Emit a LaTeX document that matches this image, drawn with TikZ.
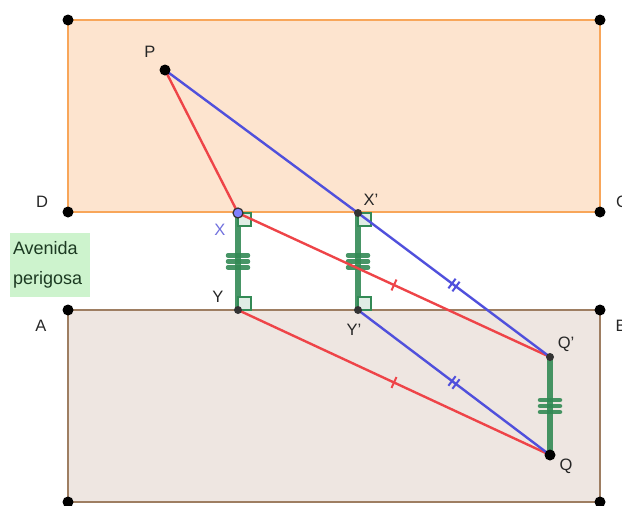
\documentclass[tikz,border=0pt]{standalone}
\usepackage{fontspec}
\setmainfont{Liberation Sans}
\usetikzlibrary{decorations.markings,calc}
\definecolor{orangeB}{HTML}{F8A65A}
\definecolor{orangeF}{HTML}{FDE4CF}
\definecolor{brownB}{HTML}{9E7E62}
\definecolor{brownF}{HTML}{EEE6E1}
\definecolor{redL}{HTML}{EE4448}
\definecolor{blueL}{HTML}{5050DC}
\definecolor{greenL}{HTML}{338A55}
\definecolor{greenBox}{HTML}{CDF3CD}
\definecolor{greenT}{HTML}{1C3A22}
\definecolor{ptX}{HTML}{8080FF}
\definecolor{labX}{HTML}{7070DD}
\tikzset{
  corner/.style={circle,fill=black,inner sep=0pt,minimum size=11pt},
  bigpt/.style={circle,fill=black,inner sep=0pt,minimum size=11pt},
  smallpt/.style={circle,fill=black!80,inner sep=0pt,minimum size=8pt},
  lab/.style={font=\fontsize{16.5}{18}\selectfont,text=black!85,inner sep=0pt},
  redseg/.style={redL,line width=2.4pt},
  blueseg/.style={blueL,line width=2.4pt},
  greenseg/.style={greenL,line width=6pt,opacity=0.9},
  bar/.style={greenL,line width=4.5pt,line cap=round,opacity=0.9},
  rightang/.style={draw=greenL,fill=greenL!15,line width=1.3pt},
  onetick/.style={postaction={decorate,decoration={markings,mark=at position 0.5 with {\draw[redL,line width=2pt] (0,-6pt)--(0,6pt);}}}},
  twotick/.style={postaction={decorate,decoration={markings,mark=at position 0.5 with {\draw[blueL,line width=2pt] (-2.5pt,-6pt)--(-2.5pt,6pt) (2.5pt,-6pt)--(2.5pt,6pt);}}}}
}
\begin{document}
\begin{tikzpicture}[x=1pt,y=-1pt]
\useasboundingbox (0,0) rectangle (622,506);
% rectangles
\coordinate (TL) at (68,20);
\coordinate (TR) at (600,20);
\coordinate (D) at (68,212);
\coordinate (C) at (600,212);
\coordinate (A) at (68,310);
\coordinate (B) at (600,310);
\coordinate (BL) at (68,502);
\coordinate (BR) at (600,502);
\draw[orangeB,fill=orangeF,line width=2.5pt] (TL) rectangle (C);
\draw[brownB,fill=brownF,line width=2.5pt] (A) rectangle (BR);
% points
\coordinate (P) at (165,70);
\coordinate (X) at (238,213);
\coordinate (Xp) at (358,213);
\coordinate (Y) at (238,310);
\coordinate (Yp) at (358,310);
\coordinate (Qp) at (550,357);
\coordinate (Q) at (550,455);
% green label
\node[fill=greenBox,text=greenT,align=left,inner sep=3pt,font=\fontsize{18}{30}\selectfont,text width=74pt,minimum height=64pt] (av) at (50,265) {Avenida\\perigosa};
% green segments
\draw[greenseg] (X) -- (Y);
\draw[greenseg] (Xp) -- (Yp);
\draw[greenseg] (Qp) -- (Q);
\foreach \s/\e in {X/Y,Xp/Yp,Qp/Q}{
  \foreach \d in {-6,0,6}{
    \draw[bar] ($(\s)!0.5!(\e)+(-10,\d)$) -- ($(\s)!0.5!(\e)+(10,\d)$);
  }
}
% right angle marks
\draw[rightang] (X) rectangle ++(13,13);
\draw[rightang] (Xp) rectangle ++(13,13);
\draw[rightang] (Y) rectangle ++(13,-13);
\draw[rightang] (Yp) rectangle ++(13,-13);
% red and blue lines
\draw[redseg] (P) -- (X);
\draw[redseg,onetick] (X) -- (Qp);
\draw[redseg,onetick] (Y) -- (Q);
\draw[blueseg] (P) -- (Xp);
\draw[blueseg,twotick] (Xp) -- (Qp);
\draw[blueseg,twotick] (Yp) -- (Q);
% dots
\foreach \c in {TL,TR,D,C,A,B,BL,BR}{\node[corner] at (\c) {};}
\node[bigpt] (nP) at (P) {};
\node[bigpt] (nQ) at (Q) {};
\node[smallpt] (nXp) at (Xp) {};
\node[smallpt] (nY) at (Y) {};
\node[smallpt] (nYp) at (Yp) {};
\node[smallpt] (nQp) at (Qp) {};
\node[circle,fill=ptX,draw=black!80,line width=1.2pt,inner sep=0pt,minimum size=10pt] (nX) at (X) {};
% labels
\node[lab] (lP) at (150,52) {P};
\node[lab] (lD) at (42,202) {D};
\node[lab] (lC) at (622,202) {C};
\node[lab] (lA) at (41,326) {A};
\node[lab] (lB) at (621,326) {B};
\node[lab,text=labX] (lX) at (220,230) {X};
\node[lab] (lY) at (218,297) {Y};
\node[lab] (lXp) at (371,200) {X'};
\node[lab] (lYp) at (354,330) {Y'};
\node[lab] (lQp) at (566,344) {Q'};
\node[lab] (lQ) at (566,466) {Q};
\end{tikzpicture}
\end{document}
